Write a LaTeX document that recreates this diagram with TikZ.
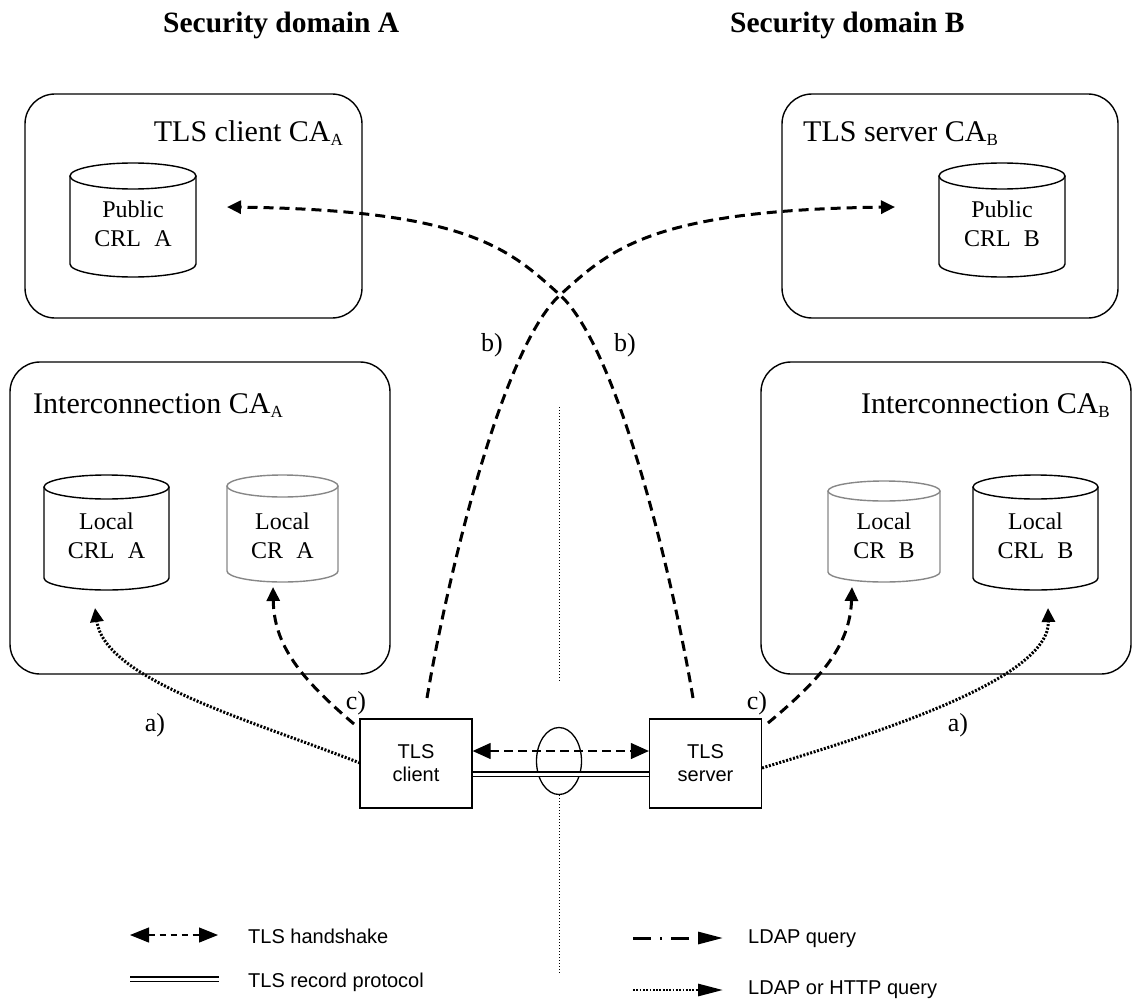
\documentclass[tikz,border=0pt]{standalone}
\usepackage{fontspec}
\setmainfont{Liberation Serif}
\newfontfamily\arialfont{Liberation Sans}
\usetikzlibrary{arrows.meta,shapes.geometric}
\definecolor{cylgraycol}{RGB}{135,135,135}
\newcommand{\dsub}[1]{\raisebox{-4pt}{\fontsize{17}{17}\selectfont #1}}
\newcommand{\drawcyl}[6]{%
  \pgfmathsetmacro\cylrx{(#2-#1)/2}%
  \pgfmathsetmacro\cylcx{(#2+#1)/2}%
  \draw[#6] (#1,#3+#5) -- (#1,#4-#5) arc[start angle=180,end angle=360,x radius=\cylrx pt,y radius=#5 pt] -- (#2,#3+#5);
  \draw[#6] (\cylcx,#3+#5) ellipse[x radius=\cylrx pt,y radius=#5 pt];
}
\begin{document}
\begin{tikzpicture}[x=1pt,y=-1pt,
  cabox/.style={draw, line width=1.4pt, rounded corners=30pt, inner sep=0pt},
  catitle/.style={font=\fontsize{30}{30}\selectfont, inner sep=0pt},
  heading/.style={font=\bfseries\fontsize{29.5}{30}\selectfont, inner sep=0pt},
  cyltext/.style={font=\fontsize{24}{29}\selectfont, align=center, inner sep=0pt},
  cylb/.style={draw=black, line width=1.4pt},
  cylg/.style={draw=cylgraycol, line width=1.4pt},
  tlsbox/.style={draw, line width=1.3pt, minimum width=112pt, minimum height=89pt, align=center, inner sep=0pt, font=\arialfont\fontsize{20}{23}\selectfont},
  lbl/.style={font=\fontsize{26}{26}\selectfont, inner sep=0pt},
  legtext/.style={font=\arialfont\fontsize{20}{20}\selectfont, anchor=base west, inner sep=0pt},
  bigdash/.style={line width=3pt, dash pattern=on 10pt off 6pt, -{Triangle[length=14pt,width=13pt]}},
  bigdot/.style={line width=3pt, dash pattern=on 2pt off 1.6pt, -{Triangle[length=14pt,width=13pt]}},
  hs/.style={line width=1.2pt, dash pattern=on 9pt off 5pt, {Triangle[length=18pt,width=16pt]}-{Triangle[length=18pt,width=16pt]}},
  hsleg/.style={line width=1.2pt, dash pattern=on 6pt off 5pt, {Triangle[length=19pt,width=15pt]}-{Triangle[length=19pt,width=15pt]}},
  rec/.style={double, double distance=3pt, line width=1.3pt},
  ldap/.style={line width=3pt, dash pattern=on 18pt off 9pt on 2pt off 9pt, -{Triangle[length=25pt,width=12pt]}},
  httpq/.style={line width=2.8pt, dash pattern=on 1.8pt off 1.5pt, -{Triangle[length=25pt,width=12pt]}},
  vdot/.style={line width=1pt, dash pattern=on 1pt off 2pt},
]
\useasboundingbox (0,0) rectangle (1134,1003);

% headings
\node[heading, anchor=base west] (hA) at (163,33) {Security domain A};
\node[heading, anchor=base west] (hB) at (730,33) {Security domain B};

% CA boxes
\node[cabox, minimum width=337pt, minimum height=224pt] (caA) at (193.5,206) {};
\node[cabox, minimum width=336pt, minimum height=224pt] (caB) at (950,206) {};
\node[cabox, minimum width=380pt, minimum height=312pt] (icA) at (200,518) {};
\node[cabox, minimum width=370pt, minimum height=312pt] (icB) at (946,518) {};

\node[catitle, anchor=base east] (tA) at (343,142) {TLS client CA\dsub{A}};
\node[catitle, anchor=base west] (tB) at (803,142) {TLS server CA\dsub{B}};
\node[catitle, anchor=base west] (tiA) at (33,413) {Interconnection CA\dsub{A}};
\node[catitle, anchor=base east] (tiB) at (1110,413) {Interconnection CA\dsub{B}};

% cylinders
\drawcyl{70}{196}{163}{277}{13}{cylb}
\node[cyltext] (pubA) at (133,224) {Public\\CRL\hspace{0.55em}A};
\drawcyl{939}{1065}{163}{277}{13}{cylb}
\node[cyltext] (pubB) at (1002,224) {Public\\CRL\hspace{0.55em}B};
\drawcyl{44}{169}{475}{590}{12}{cylb}
\node[cyltext] (lclA) at (106.5,536) {Local\\CRL\hspace{0.55em}A};
\drawcyl{227}{338}{475}{582}{11}{cylg}
\node[cyltext] (lcrA) at (282.5,536) {Local\\CR\hspace{0.55em}A};
\drawcyl{828}{940}{481}{582}{10}{cylg}
\node[cyltext] (lcrB) at (884,536) {Local\\CR\hspace{0.55em}B};
\drawcyl{973}{1098}{475}{590}{12}{cylb}
\node[cyltext] (lclB) at (1035.5,536) {Local\\CRL\hspace{0.55em}B};

% TLS endpoints
\node[tlsbox] (cli) at (416,763.5) {TLS\\client};
\node[tlsbox] (srv) at (705.5,763.5) {TLS\\server};
\node[draw, ellipse, line width=1.3pt, minimum width=45pt, minimum height=67pt, inner sep=0pt] (ring) at (559,761) {};

\draw[hs] ([yshift=12.5pt]cli.east) -- ([yshift=12.5pt]srv.west);
\draw[rec] ([yshift=-10.5pt]cli.east) -- ([yshift=-10.5pt]srv.west);

% domain separator
\coordinate (vtop) at (559,407);
\coordinate (vmid) at (559,682);
\coordinate (vbot) at (559,975);
\draw[vdot] (vtop) -- (vmid);
\draw[vdot] (ring.south) -- (vbot);

% connector end points
\coordinate (cliB) at (427,698);
\coordinate (srvB) at (693,698);
\coordinate (cross) at (560,295);
\coordinate (tipPubA) at (227,207);
\coordinate (tipPubB) at (895,207);
\coordinate (cliC) at (354,724);
\coordinate (srvC) at (768,723);
\coordinate (tipCRA) at (273,587);
\coordinate (tipCRB) at (852,587);
\coordinate (cliA) at (360,763);
\coordinate (srvA) at (762,768);
\coordinate (tipCRLA) at (95,608);
\coordinate (tipCRLB) at (1048,608);

% b) public CRL queries
\draw[bigdash] (cliB) .. controls (445,590) and (500,350) .. (cross) .. controls (610,250) and (650,210) .. (tipPubB);
\draw[bigdash] (srvB) .. controls (675,590) and (620,350) .. (cross) .. controls (510,250) and (470,210) .. (tipPubA);

% c) local CR queries
\draw[bigdash] (cliC) .. controls (300,678) and (274,645) .. (tipCRA);
\draw[bigdash] (srvC) .. controls (822,678) and (850,645) .. (tipCRB);

% a) local CRL queries
\draw[bigdot] (cliA) .. controls (250,720) and (105,680) .. (tipCRLA);
\draw[bigdot] (srvA) .. controls (870,735) and (1050,680) .. (tipCRLB);

% labels
\node[lbl] (la1) at (155,725) {a)};
\node[lbl] (la2) at (958,725) {a)};
\node[lbl] (lb1) at (492,345) {b)};
\node[lbl] (lb2) at (625,345) {b)};
\node[lbl] (lc1) at (356,703) {c)};
\node[lbl] (lc2) at (757,703) {c)};

% legend
\coordinate (g1a) at (130,935); \coordinate (g1b) at (218,935);
\coordinate (g2a) at (130,979); \coordinate (g2b) at (219,979);
\coordinate (g3a) at (633,938); \coordinate (g3b) at (723,938);
\coordinate (g4a) at (633,990); \coordinate (g4b) at (723,990);
\draw[hsleg] (g1a) -- (g1b);
\draw[rec] (g2a) -- (g2b);
\draw[ldap] (g3a) -- (g3b);
\draw[httpq] (g4a) -- (g4b);
\node[legtext] (t1) at (248,943) {TLS handshake};
\node[legtext] (t2) at (248,987) {TLS record protocol};
\node[legtext] (t3) at (748,943) {LDAP query};
\node[legtext] (t4) at (748,994) {LDAP or HTTP query};
\end{tikzpicture}
\end{document}
